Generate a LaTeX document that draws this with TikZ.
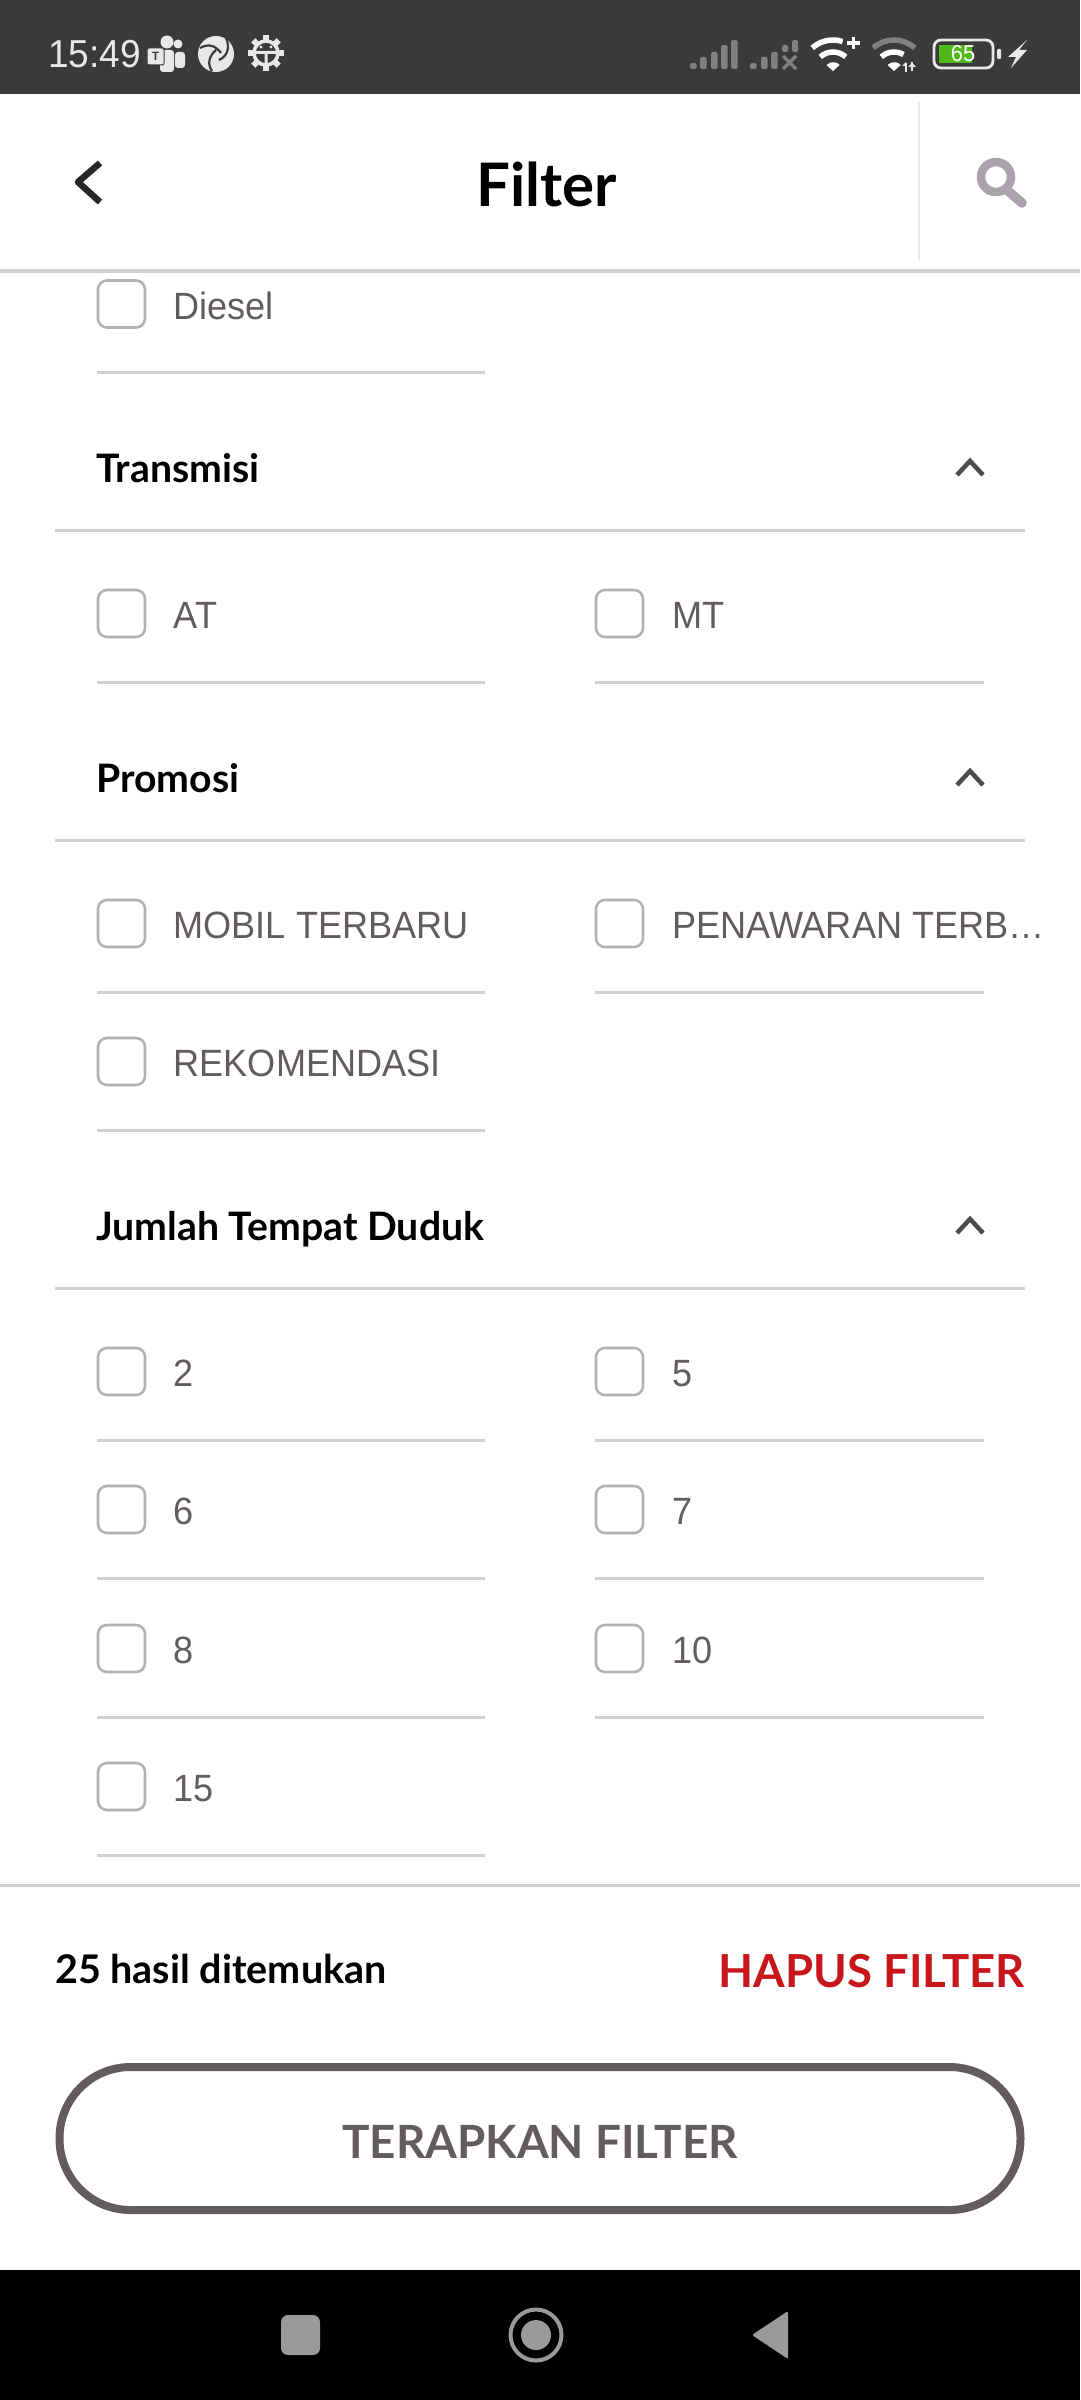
\documentclass[tikz,border=0pt]{standalone}
\usepackage{fontspec}
\newfontfamily\latofont{Lato}
\newfontfamily\rowfont[FakeStretch=0.95]{Liberation Sans}
\definecolor{barbg}{HTML}{3A3A3A}
\definecolor{linegray}{HTML}{D0CFD4}
\definecolor{boxgray}{HTML}{B5B0B5}
\definecolor{rowgray}{HTML}{625C5D}
\definecolor{iconlight}{HTML}{E8E8E8}
\definecolor{icondim}{HTML}{808080}
\definecolor{navgray}{HTML}{9A9A9A}
\definecolor{hapusred}{HTML}{C8161D}
\definecolor{battgreen}{HTML}{4FB81A}
\definecolor{searchgray}{HTML}{A9A4AA}
\tikzset{
  rowtext/.style={anchor=base west, inner sep=0pt, text=rowgray, font=\rowfont\fontsize{38}{38}\selectfont},
  headtext/.style={anchor=base west, inner sep=0pt, text=black, font=\latofont\bfseries\fontsize{39.2}{39.2}\selectfont},
  chkbox/.style={draw=boxgray, line width=2.6pt, rounded corners=9pt, minimum width=47pt, minimum height=47pt, inner sep=0pt},
  rowline/.style={draw=linegray, line width=3pt},
  chevron/.style={draw=black!70, line width=4.5pt}
}
\begin{document}
\begin{tikzpicture}[x=1pt,y=-1pt]
\useasboundingbox (0,0) rectangle (1080,2400);
% bars
\fill[barbg] (0,0) rectangle (1080,94);
\fill[black] (0,2270) rectangle (1080,2400);
% status bar left
\node[anchor=base west, inner sep=0pt, text=iconlight, font=\rowfont\fontsize{39}{39}\selectfont] (clock) at (48,68) {15:49};
\fill[iconlight] (167,42) circle (6.5) (178,44) circle (4.5);
\fill[iconlight, rounded corners=3pt] (160,50) rectangle (174,72);
\fill[iconlight, rounded corners=3pt] (175,52) rectangle (185,68);
\draw[barbg, line width=1pt, fill=iconlight, rounded corners=2pt] (147,48) rectangle (164,65);
\node[inner sep=0pt, text=barbg, font=\rowfont\bfseries\fontsize{12}{12}\selectfont] (teamst) at (155.5,56.5) {T};
\fill[iconlight] (216,54) circle (18);
\draw[barbg, line width=2.2pt] (200,48) .. controls (209,43) and (216,46) .. (221,53)
  (226,38) .. controls (230,47) and (228,56) .. (219,60)
  (212,71) .. controls (207,64) and (209,56) .. (216,50);
\foreach \ang in {0,45,...,315}
  \fill[iconlight, shift={(266,53)}, rotate=\ang] (-3,-18) rectangle (3,-12);
\draw[iconlight, line width=3.5pt] (266,53) circle (12);
\fill[iconlight] (255,51) rectangle (277,54) (264.5,53) rectangle (267.5,65);
\fill[iconlight] (261,47) circle (1.6) (271,47) circle (1.6);
% status bar right
\foreach \xb/\yb in {690/63,700/57,711/52,721/45,731/40}
  \fill[icondim, rounded corners=1.5pt] (\xb,\yb) rectangle ++(6.5,{69-\yb});
\foreach \xb/\yb in {750/63,761/57,771/52}
  \fill[icondim, rounded corners=1.5pt] (\xb,\yb) rectangle ++(6.5,{69-\yb});
\fill[icondim, rounded corners=1.5pt] (782,45) rectangle (788,52);
\fill[icondim, rounded corners=1.5pt] (792,40) rectangle (798,52);
\draw[icondim, line width=3.2pt] (783,56) -- (796,69) (796,56) -- (783,69);
% wifi icons
\draw[white, line width=5.5pt] ([shift={(132:31pt)}]833,71) arc[start angle=132, end angle=72, radius=31pt];
\draw[white, line width=5.5pt] ([shift={(132:19pt)}]833,71) arc[start angle=132, end angle=48, radius=19pt];
\fill[white] (833,71) -- ++(-6.5,-6) arc[start angle=137, end angle=43, radius=9pt] -- cycle;
\draw[white, line width=3.6pt] (847,43) -- (860,43) (853.5,37) -- (853.5,49);
\draw[icondim, line width=5.5pt] ([shift={(132:31pt)}]894,71) arc[start angle=132, end angle=48, radius=31pt];
\draw[white, line width=5.5pt] ([shift={(132:19pt)}]894,71) arc[start angle=132, end angle=60, radius=19pt];
\fill[white] (894,71) -- ++(-6.5,-6) arc[start angle=137, end angle=43, radius=9pt] -- cycle;
\draw[iconlight, line width=2pt] (906,63) -- (906,72) (912,62) -- (912,71);
\fill[iconlight] (902,66) -- (906,62) -- (906,66) -- cycle (908,67) -- (916,67) -- (912,63) -- cycle;
% battery
\fill[battgreen] (939,45) rectangle (972,63);
\draw[iconlight, line width=2.8pt, rounded corners=7pt] (934,40) rectangle (993,68);
\fill[iconlight, rounded corners=1pt] (997,49) rectangle (1001,59);
\node[inner sep=0pt, text=white, font=\rowfont\fontsize{23}{23}\selectfont] (battlevel) at (963,54) {65};
\fill[iconlight] (1027,40) -- (1008,57) -- (1016,57) -- (1011,68) -- (1027,50) -- (1019,50) -- cycle;
% toolbar
\node[anchor=base, inner sep=0pt, text=black, font=\latofont\bfseries\fontsize{60}{60}\selectfont] (title) at (547,207) {Filter};
\draw[black!85, line width=6.5pt, line join=round] (100,163) -- (78,182) -- (100,202);
\draw[iconlight, line width=2pt] (919,102) -- (919,260);
\draw[searchgray, line width=8.5pt] (996,177) circle (15);
\draw[searchgray, line width=9.5pt, line cap=round] (1007,190) -- (1022,203);
\draw[linegray, line width=3.5pt] (0,271) -- (1080,271);
% filter sections
\foreach \hy/\htxt in {482/Transmisi,792/Promosi,1240/Jumlah Tempat Duduk}{
  \node[headtext] (head\hy) at (96,\hy) {\htxt};
  \draw[rowline] (55,\hy+48) -- (1025,\hy+48);
  \draw[chevron] (957,\hy-7) -- (970,\hy-21) -- (983,\hy-7);
}
% left column rows
\foreach \ry/\rtxt in {304/Diesel,613.5/AT,923.5/MOBIL TERBARU,1061.5/REKOMENDASI,1371.5/2,1509.5/6,1648.5/8,1786.5/15}{
  \node[chkbox] (box\ry) at (121.5,\ry) {};
  \node[rowtext] (lbl\ry) at (173.5,\ry+15) {\rtxt};
  \draw[rowline] (97,\ry+68.5) -- (485,\ry+68.5);
}
% right column rows
\foreach \ry/\rtxt in {613.5/MT,923.5/PENAWARAN TERB…,1371.5/5,1509.5/7,1648.5/10}{
  \node[chkbox] (boxr\ry) at (619.5,\ry) {};
  \node[rowtext] (lblr\ry) at (672,\ry+15) {\rtxt};
  \draw[rowline] (595,\ry+68.5) -- (984,\ry+68.5);
}
% footer
\draw[linegray, line width=3pt] (0,1885) -- (1080,1885);
\node[anchor=base west, inner sep=0pt, text=black, font=\latofont\bfseries\fontsize{39.5}{39.5}\selectfont] (hasil) at (55,1983) {25 hasil ditemukan};
\node[anchor=base east, inner sep=0pt, text=hapusred, font=\latofont\bfseries\fontsize{45.5}{45.5}\selectfont] (hapus) at (1025,1987) {HAPUS FILTER};
\node[draw=rowgray, line width=8pt, rounded corners=71pt, minimum width=961pt, minimum height=143pt, inner sep=0pt] (terapkan) at (540,2138.5) {};
\node[anchor=base, inner sep=0pt, text=rowgray, font=\latofont\bfseries\fontsize{45.8}{45.8}\selectfont] (terapkanlbl) at (540,2158) {TERAPKAN FILTER};
% nav bar
\fill[navgray, rounded corners=7pt] (281,2315) rectangle (320,2355);
\draw[navgray, line width=4pt] (536,2335) circle (25.5);
\fill[navgray] (536,2335) circle (15);
\fill[navgray, rounded corners=2pt] (752,2335) -- (788,2311) -- (788,2359) -- cycle;
\end{tikzpicture}
\end{document}
